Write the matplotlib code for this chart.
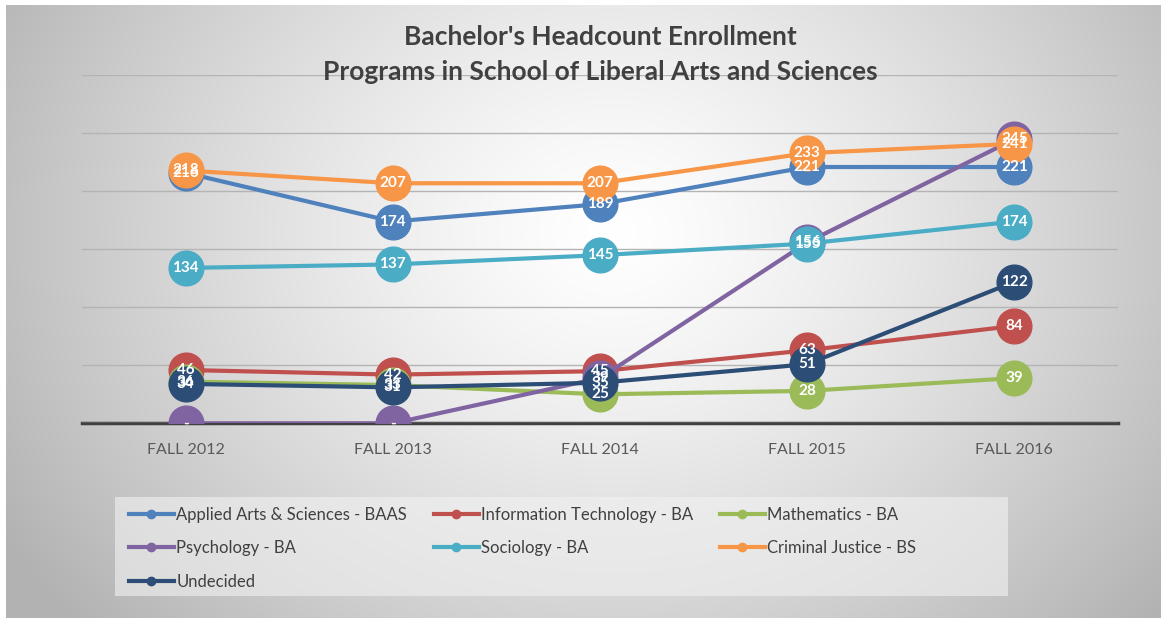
import numpy as np
import matplotlib.pyplot as plt
from matplotlib.patches import Rectangle

plt.rcParams['font.family'] = ['Lato', 'DejaVu Sans']

terms = ['FALL 2012', 'FALL 2013', 'FALL 2014', 'FALL 2015', 'FALL 2016']

applied_arts = [216, 174, 189, 221, 221]
info_tech = [46, 42, 45, 63, 84]
mathematics = [36, 33, 25, 28, 39]
psychology = [0, 0, 39, 156, 245]
sociology = [134, 137, 145, 155, 174]
criminal_justice = [218, 207, 207, 233, 241]
undecided = [34, 31, 35, 51, 122]

series = [
    ('Applied Arts & Sciences - BAAS', applied_arts, '#4f81bd'),
    ('Information Technology - BA', info_tech, '#c0504d'),
    ('Mathematics - BA', mathematics, '#9bbb59'),
    ('Psychology - BA', psychology, '#8064a2'),
    ('Sociology - BA', sociology, '#4bacc6'),
    ('Criminal Justice - BS', criminal_justice, '#f79646'),
    ('Undecided', undecided, '#2c4d75'),
]

fig = plt.figure(figsize=(11.63, 6.18), dpi=100)
fig.patch.set_facecolor('white')

# radial gradient background
bg = fig.add_axes([0.005, 0.0, 0.993, 0.992])
h, w = 618, 1163
yy, xx = np.mgrid[0:h, 0:w]
r = np.sqrt(((xx - 610) / 620.0) ** 2 + ((yy - 230) / 520.0) ** 2)
shade = 1.0 - 0.25 * np.clip(r, 0, 1.15) ** 1.3
bg.imshow(np.dstack([shade, shade, shade]), aspect='auto', extent=[0, 1, 0, 1])
bg.set_axis_off()

ax = fig.add_axes([0.0705, 0.315, 0.8908, 0.563])
ax.patch.set_alpha(0)
x = np.arange(len(terms))

handles = []
for name, vals, color in series:
    ln, = ax.plot(x, vals, '-', color=color, lw=3, marker='o', markersize=25,
                  markerfacecolor=color, markeredgecolor=color, solid_capstyle='round')
    handles.append(ln)

for name, vals, color in series:
    for xi, v in zip(x, vals):
        ax.text(xi, v, '-' if v == 0 else str(v), color='white', fontsize=11,
                fontweight='bold', ha='center', va='center', zorder=10)

ax.set_xlim(-0.5, 4.5)
ax.set_ylim(0, 300)
ax.set_yticks(range(0, 301, 50))
ax.yaxis.grid(True, color='#b4b4b4', lw=1)
ax.set_axisbelow(True)
ax.tick_params(axis='y', left=False, labelleft=False)
ax.tick_params(axis='x', length=0, pad=14, labelsize=11.5, labelcolor='#595959')
ax.set_xticks(x)
ax.set_xticklabels(terms)
for s in ['top', 'right', 'left']:
    ax.spines[s].set_visible(False)
ax.spines['bottom'].set_color('#404040')
ax.spines['bottom'].set_linewidth(2.5)
ax.spines['bottom'].set_zorder(0.5)

fig.text(0.516, 0.940, "Bachelor's Headcount Enrollment", ha='center', va='center',
         fontsize=19, fontweight='bold', color='#404040')
fig.text(0.516, 0.883, "Programs in School of Liberal Arts and Sciences", ha='center',
         va='center', fontsize=19, fontweight='bold', color='#404040')

# legend panel
fig.patches.append(Rectangle((115 / w, 1 - 596 / h), (1008 - 115) / w, (596 - 497) / h,
                             transform=fig.transFigure, facecolor='#f2f2f2', alpha=0.6,
                             edgecolor='none', zorder=1))

leg_handles = []
for ln in handles:
    c = ln.get_color()
    h2, = ax.plot([], [], '-', color=c, lw=3, marker='o', markersize=6)
    leg_handles.append(h2)
order = [0, 3, 6, 1, 4, 2, 5]
leg = fig.legend([leg_handles[i] for i in order], [series[i][0] for i in order],
                 loc='upper left', bbox_to_anchor=(122 / w, 1 - 500 / h), ncol=3,
                 frameon=False, fontsize=12, handlelength=2.7, handletextpad=0.15,
                 columnspacing=1.6, labelspacing=1.05, borderaxespad=0)
for t in leg.get_texts():
    t.set_color('#404040')

fig.savefig('out.png', dpi=100)
